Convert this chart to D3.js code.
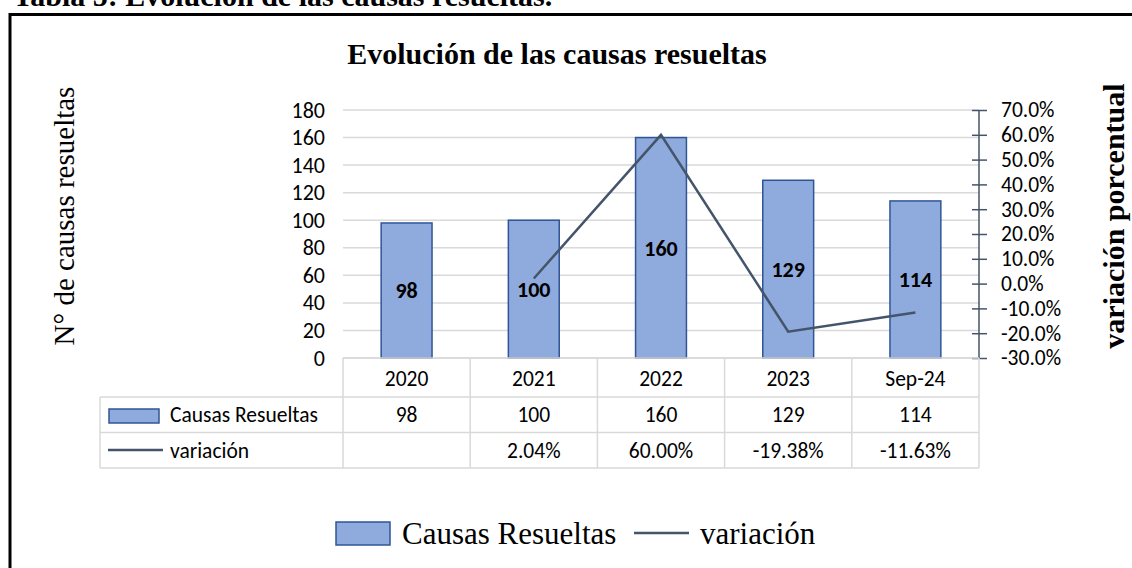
<!DOCTYPE html>
<html>
<head>
<meta charset="utf-8">
<script src="https://cdn.jsdelivr.net/npm/d3@7"></script>
<style>
  html, body { margin: 0; padding: 0; background: #fff; }
  svg { display: block; }
</style>
</head>
<body>
<svg id="chart" width="1132" height="568"></svg>
<script>
const categories = ["2020", "2021", "2022", "2023", "Sep-24"];
const causasResueltas = [98, 100, 160, 129, 114];
const variacion = [null, 2.04, 60.00, -19.38, -11.63]; // percent
const leftTicks = [0, 20, 40, 60, 80, 100, 120, 140, 160, 180];
const rightTicks = [-30, -20, -10, 0, 10, 20, 30, 40, 50, 60, 70]; // percent
const seriesNames = ["Causas Resueltas", "variación"];

const barFill = "#8faadc", barStroke = "#2f5597", lineColor = "#44546a", gridColor = "#d9d9d9";
const sans = "Carlito, Calibri, Lato, sans-serif";
const serif = "'Liberation Serif', 'Times New Roman', serif";
const fs = 21.5;

const svg = d3.select("#chart");

// Page header (clipped at top) and frame
svg.append("text").attr("x", 13).attr("y", 6)
  .attr("font-family", serif).attr("font-weight", "bold").attr("font-size", 30)
  .text("Tabla 5: Evolución de las causas resueltas.");
svg.append("path").attr("d", "M10,568 V14.5 H1132")
  .attr("fill", "none").attr("stroke", "#000").attr("stroke-width", 3);

// Title
svg.append("text").attr("x", 557).attr("y", 64).attr("text-anchor", "middle")
  .attr("font-family", serif).attr("font-weight", "bold").attr("font-size", 30)
  .text("Evolución de las causas resueltas");

// Scales
const x = d3.scaleBand().domain(categories).range([343, 979]).padding(0);
const yL = d3.scaleLinear().domain([0, 180]).range([358, 110]);
const yR = d3.scaleLinear().domain([-30, 70]).range([358, 110]);
const barW = x.bandwidth() * 0.4;

// Gridlines
svg.append("g").selectAll("line").data(leftTicks).join("line")
  .attr("x1", x.range()[0]).attr("x2", x.range()[1])
  .attr("y1", d => yL(d)).attr("y2", d => yL(d))
  .attr("stroke", gridColor).attr("stroke-width", 1.5);

// Left axis
const gL = svg.append("g").attr("transform", `translate(${x.range()[0]},0)`)
  .call(d3.axisLeft(yL).tickValues(leftTicks).tickSize(0).tickPadding(18));
gL.select(".domain").remove();
gL.selectAll("text").attr("font-family", sans).attr("font-size", 22).attr("fill", "#000");

// Bars
svg.append("g").selectAll("rect").data(causasResueltas).join("rect")
  .attr("x", (d, i) => x(categories[i]) + (x.bandwidth() - barW) / 2)
  .attr("y", d => yL(d))
  .attr("width", barW)
  .attr("height", d => yL(0) - yL(d))
  .attr("fill", barFill).attr("stroke", barStroke).attr("stroke-width", 1.5);

// Right axis
const gR = svg.append("g").attr("transform", `translate(${x.range()[1]},0)`)
  .call(d3.axisRight(yR).tickValues(rightTicks).tickSize(7).tickPadding(15)
    .tickFormat(d => d.toFixed(1) + "%"));
gR.select(".domain").attr("stroke", lineColor).attr("stroke-width", 1.5).attr("d", `M0,${yR(70)}V${yR(-30)}`);
gR.selectAll(".tick line").attr("x1", -7).attr("x2", 8).attr("stroke", lineColor).attr("stroke-width", 1.5);
gR.selectAll("text").attr("font-family", sans).attr("font-size", fs).attr("fill", "#000");

// Variation line
const linePts = variacion.map((v, i) => ({ c: categories[i], v })).filter(d => d.v !== null);
svg.append("path").datum(linePts)
  .attr("d", d3.line().x(d => x(d.c) + x.bandwidth() / 2).y(d => yR(d.v)))
  .attr("fill", "none").attr("stroke", lineColor).attr("stroke-width", 2.5);

// Bar labels (centered)
svg.append("g").selectAll("text").data(causasResueltas).join("text")
  .attr("x", (d, i) => x(categories[i]) + x.bandwidth() / 2)
  .attr("y", d => (yL(d) + yL(0)) / 2 + 8)
  .attr("text-anchor", "middle")
  .attr("font-family", sans).attr("font-weight", "bold").attr("font-size", 22)
  .text(d => d);

// Data table
const tLeft = 100, tRight = x.range()[1];
const tbl = svg.append("g").attr("stroke", gridColor).attr("stroke-width", 1.5);
tbl.append("line").attr("x1", x.range()[0]).attr("x2", tRight).attr("y1", 358).attr("y2", 358);
[397, 432.5, 468].forEach(yy => tbl.append("line").attr("x1", tLeft).attr("x2", tRight).attr("y1", yy).attr("y2", yy));
categories.forEach(c => tbl.append("line").attr("x1", x(c)).attr("x2", x(c)).attr("y1", 358).attr("y2", 468));
tbl.append("line").attr("x1", tRight).attr("x2", tRight).attr("y1", 358).attr("y2", 468);
tbl.append("line").attr("x1", tLeft).attr("x2", tLeft).attr("y1", 397).attr("y2", 468);

const txt = svg.append("g").attr("font-family", sans).attr("font-size", fs).attr("text-anchor", "middle");
categories.forEach((c, i) => {
  const cx = x(c) + x.bandwidth() / 2;
  txt.append("text").attr("x", cx).attr("y", 386).text(c);
  txt.append("text").attr("x", cx).attr("y", 422).text(causasResueltas[i]);
  if (variacion[i] !== null)
    txt.append("text").attr("x", cx).attr("y", 458).text(variacion[i].toFixed(2) + "%");
});
svg.append("rect").attr("x", 109).attr("y", 409).attr("width", 50).attr("height", 14)
  .attr("fill", barFill).attr("stroke", barStroke).attr("stroke-width", 1.5);
svg.append("line").attr("x1", 108).attr("x2", 163).attr("y1", 450).attr("y2", 450)
  .attr("stroke", lineColor).attr("stroke-width", 2.5);
svg.append("text").attr("x", 170).attr("y", 422).attr("font-family", sans).attr("font-size", fs).text(seriesNames[0]);
svg.append("text").attr("x", 170).attr("y", 458).attr("font-family", sans).attr("font-size", fs).text(seriesNames[1]);

// Axis titles
svg.append("text").attr("transform", "translate(74,216) rotate(-90)").attr("text-anchor", "middle")
  .attr("font-family", serif).attr("font-size", 29).text("N° de causas resueltas");
svg.append("text").attr("transform", "translate(1124,216) rotate(-90)").attr("text-anchor", "middle")
  .attr("font-family", serif).attr("font-weight", "bold").attr("font-size", 30).text("variación porcentual");

// Bottom legend
svg.append("rect").attr("x", 336).attr("y", 522).attr("width", 54).attr("height", 23)
  .attr("fill", barFill).attr("stroke", barStroke).attr("stroke-width", 1.5);
svg.append("text").attr("x", 402).attr("y", 544).attr("font-family", serif).attr("font-size", 31).text(seriesNames[0]);
svg.append("line").attr("x1", 634).attr("x2", 689).attr("y1", 533).attr("y2", 533)
  .attr("stroke", lineColor).attr("stroke-width", 2.5);
svg.append("text").attr("x", 700).attr("y", 544).attr("font-family", serif).attr("font-size", 31).text(seriesNames[1]);
</script>
</body>
</html>
